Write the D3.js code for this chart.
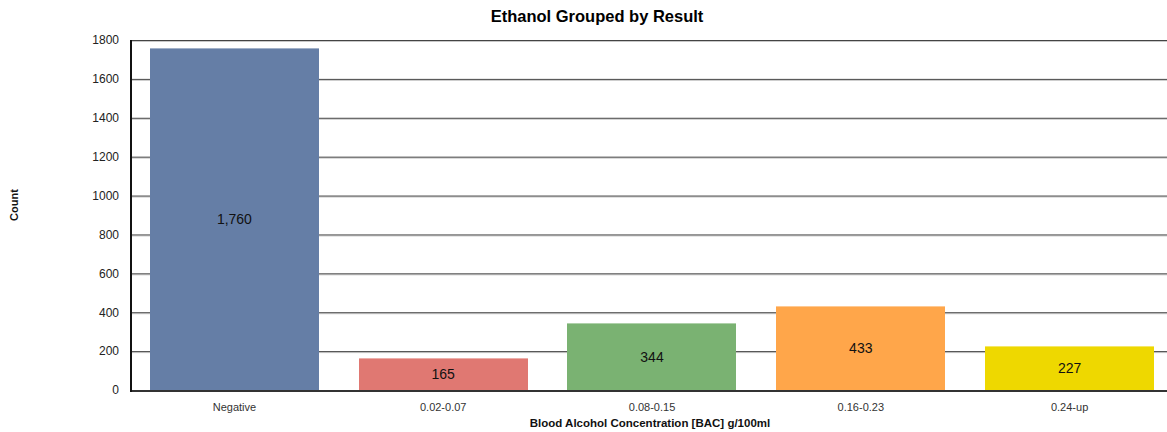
<!DOCTYPE html>
<html>
<head>
<meta charset="utf-8">
<script src="https://cdn.jsdelivr.net/npm/d3@7"></script>
<style>
body{margin:0;background:#fff;font-family:"Liberation Sans",Arial,sans-serif;}
</style>
</head>
<body>
<div id="chart"></div>
<script>
var categories=["Negative","0.02-0.07","0.08-0.15","0.16-0.23","0.24-up"]
var counts=[1760,165,344,433,227]
var colors=["#657ea6","#e07872","#7ab272","#ffa64a","#eed800"]
var yTicks=[0,200,400,600,800,1000,1200,1400,1600,1800]

var svg=d3.select("#chart")
      .append("svg")
      .attr("width",1167)
      .attr("height",432)

var margin={left:130,top:40,bottom:42},
    plotW=1044,
    plotH=350

var x=d3.scaleBand()
    .domain(categories)
    .range([margin.left,margin.left+plotW])
    .paddingInner(0.19)
    .paddingOuter(0.095)

var y=d3.scaleLinear()
    .domain([0,1800])
    .range([margin.top+plotH,margin.top])

// gridlines (dark line with a light shadow under it)
var grid=svg.append("g")
grid.selectAll(".shadow")
    .data(yTicks.slice(1))
    .enter().append("line")
    .attr("x1",margin.left).attr("x2",margin.left+plotW)
    .attr("y1",d=>y(d)+1.5).attr("y2",d=>y(d)+1.5)
    .attr("stroke","#c8c8c8").attr("stroke-width",1)
grid.selectAll(".gl")
    .data(yTicks.slice(1))
    .enter().append("line")
    .attr("x1",margin.left).attr("x2",margin.left+plotW)
    .attr("y1",d=>y(d)+0.5).attr("y2",d=>y(d)+0.5)
    .attr("stroke","#444").attr("stroke-width",1)

// bars
var bars=svg.selectAll(".bar")
    .data(counts)
    .enter().append("g")
    .attr("class","bar")

bars.append("rect")
    .attr("x",(d,i)=>Math.round(x(categories[i])))
    .attr("y",d=>Math.round(y(d)))
    .attr("width",Math.round(x.bandwidth()))
    .attr("height",d=>y(0)-Math.round(y(d)))
    .attr("fill",(d,i)=>colors[i])

bars.append("rect")
    .attr("x",(d,i)=>Math.round(x(categories[i])))
    .attr("y",d=>Math.round(y(d)))
    .attr("width",Math.round(x.bandwidth()))
    .attr("height",1)
    .attr("fill","#fff").attr("opacity",0.4)

bars.append("text")
    .attr("x",(d,i)=>x(categories[i])+x.bandwidth()/2)
    .attr("y",d=>(y(d)+y(0))/2)
    .attr("dy","0.36em")
    .attr("text-anchor","middle")
    .attr("font-size",14)
    .attr("fill","#111")
    .text(d=>d3.format(",")(d))

// axes
var yAxis=svg.append("g")
    .attr("transform","translate("+margin.left+",0)")
    .call(d3.axisLeft(y).tickValues(yTicks).tickSize(0).tickPadding(11).tickFormat(d3.format("d")))
yAxis.select(".domain").remove()
yAxis.selectAll("text").attr("font-size",12).attr("fill","#222").attr("font-family","Liberation Sans, Arial, sans-serif")

var xAxis=svg.append("g")
    .attr("transform","translate(0,"+(margin.top+plotH)+")")
    .call(d3.axisBottom(x).tickSize(0).tickPadding(13))
xAxis.select(".domain").remove()
xAxis.selectAll("text").attr("font-size",11).attr("fill","#333").attr("font-family","Liberation Sans, Arial, sans-serif")

svg.append("line")
    .attr("x1",margin.left).attr("x2",margin.left+plotW)
    .attr("y1",y(0)+1).attr("y2",y(0)+1)
    .attr("stroke","#333").attr("stroke-width",2)
svg.append("line")
    .attr("x1",margin.left+1).attr("x2",margin.left+1)
    .attr("y1",margin.top).attr("y2",y(0)+2)
    .attr("stroke","#111").attr("stroke-width",2)

// titles
svg.append("text")
    .attr("x",597).attr("y",22)
    .attr("text-anchor","middle")
    .attr("font-size",16.5).attr("font-weight","bold")
    .text("Ethanol Grouped by Result")

svg.append("text")
    .attr("x",margin.left+plotW/2-2).attr("y",427)
    .attr("text-anchor","middle")
    .attr("font-size",11.5).attr("font-weight","bold")
    .attr("fill","#111")
    .text("Blood Alcohol Concentration [BAC] g/100ml")

svg.append("text")
    .attr("transform","translate(18,"+(margin.top+plotH/2-10)+") rotate(-90)")
    .attr("text-anchor","middle")
    .attr("font-size",11).attr("font-weight","bold")
    .attr("fill","#111")
    .text("Count")
</script>
</body>
</html>
